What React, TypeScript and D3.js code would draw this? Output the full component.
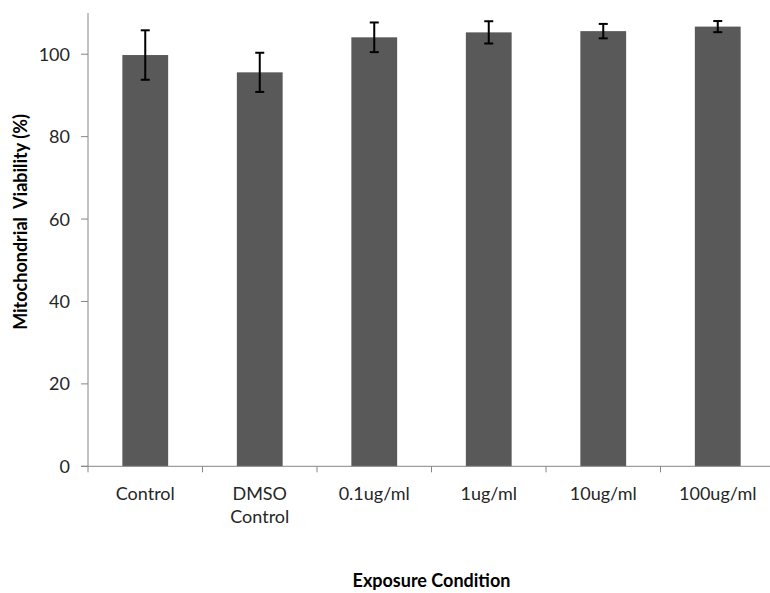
import React from "react";
import * as d3 from "d3";

const categories = ["Control", "DMSO Control", "0.1ug/ml", "1ug/ml", "10ug/ml", "100ug/ml"];
const categoryLines = [["Control"], ["DMSO", "Control"], ["0.1ug/ml"], ["1ug/ml"], ["10ug/ml"], ["100ug/ml"]];
const values = [99.8, 95.6, 104.1, 105.3, 105.6, 106.7];
const errors = [6.0, 4.75, 3.6, 2.7, 1.75, 1.35];
const yTicks = [0, 20, 40, 60, 80, 100];
const yTitle = "Mitochondrial  Viability (%)";
const xTitle = "Exposure Condition";

export default function App() {
  const width = 770;
  const height = 593;
  const left = 88;
  const right = 775;
  const top = 13;
  const bottom = 466.3;
  const font = "Lato, 'Open Sans', sans-serif";

  const x = d3.scaleBand<string>().domain(categories).range([left, right]).paddingInner(0.6).paddingOuter(0.3);
  const xOuter = d3.scaleBand<string>().domain(categories).range([left, right]);
  const y = d3.scaleLinear().domain([0, 110]).range([bottom, top]);

  return (
    <svg width={width} height={height} style={{ position: "absolute", left: 0, top: 0, background: "#fff" }}>
      {categories.map((c, i) => (
        <rect key={c} x={x(c)} y={y(values[i])} width={x.bandwidth()} height={bottom - y(values[i])} fill="#595959" />
      ))}
      <line x1={left} x2={left} y1={top} y2={bottom} stroke="#868686" strokeWidth={1} />
      <line x1={left - 7} x2={right} y1={bottom} y2={bottom} stroke="#868686" strokeWidth={1} />
      {yTicks.map((t) => (
        <g key={t}>
          <line x1={left - 7} x2={left} y1={y(t)} y2={y(t)} stroke="#868686" />
          <text x={70} y={y(t)} dy="0.36em" textAnchor="end" fontFamily={font} fontSize={18} fill="#262626">
            {t}
          </text>
        </g>
      ))}
      {categories.map((c) => (
        <line key={"t" + c} x1={xOuter(c)} x2={xOuter(c)} y1={bottom} y2={bottom + 6} stroke="#868686" />
      ))}
      {categories.map((c, i) => {
        const cx = (x(c) as number) + x.bandwidth() / 2;
        const y1 = y(values[i] + errors[i]);
        const y2 = y(values[i] - errors[i]);
        return (
          <g key={"e" + c} stroke="#000" strokeWidth={2}>
            <line x1={cx} x2={cx} y1={y1} y2={y2} />
            <line x1={cx - 4.5} x2={cx + 4.5} y1={y1} y2={y1} />
            <line x1={cx - 4.5} x2={cx + 4.5} y1={y2} y2={y2} />
          </g>
        );
      })}
      {categories.map((c, i) => (
        <text key={"l" + c} x={(x(c) as number) + x.bandwidth() / 2} y={500} textAnchor="middle" fontFamily={font} fontSize={18} fill="#262626">
          {categoryLines[i].map((ln, j) => (
            <tspan key={j} x={(x(c) as number) + x.bandwidth() / 2} dy={j === 0 ? 0 : 23}>
              {ln}
            </tspan>
          ))}
        </text>
      ))}
      <text x={(left + right) / 2} y={587} textAnchor="middle" fontFamily={font} fontSize={18} fontWeight="bold" fill="#000">
        {xTitle}
      </text>
      <text transform={`translate(27, 222) rotate(-90)`} textAnchor="middle" fontFamily={font} fontSize={18} fontWeight="bold" fill="#000" style={{ whiteSpace: "pre" }}>
        {yTitle}
      </text>
    </svg>
  );
}
